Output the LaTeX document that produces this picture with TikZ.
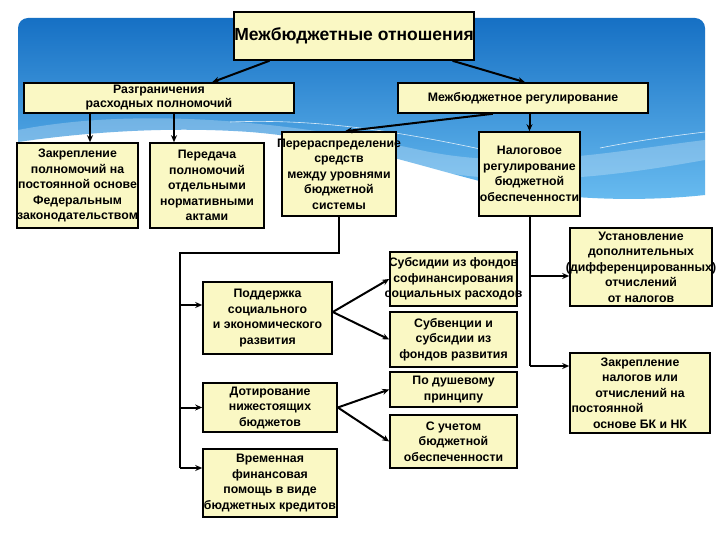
\documentclass[tikz,border=0pt]{standalone}
\usepackage{fontspec}
\setmainfont{Liberation Sans}
\usetikzlibrary{arrows.meta,calc}
\definecolor{boxfill}{RGB}{250,248,196}
\definecolor{bluetop}{RGB}{22,112,196}
\definecolor{bluebot}{RGB}{105,188,240}
\newcommand\boxnode[6][]{%
  \node[bx,minimum width=#4,minimum height=#5] (#2) at (#3) {};
  \node[txt,#1] (#2-t) at (#2.center) {#6};}
\begin{document}
\begin{tikzpicture}[x=1pt,y=-1pt,
  bx/.style={draw=black,line width=1.6pt,fill=boxfill,inner sep=0pt},
  txt/.style={inner sep=0pt,align=center,font=\bfseries\fontsize{12.3}{15.5}\selectfont},
  arr/.style={line width=2pt,-{Stealth[length=7pt,width=6pt]}},
  ln/.style={line width=2pt}]
\useasboundingbox (0,0) rectangle (720,540);
\fill[white] (0,0) rectangle (720,540);
% blue background panel
\shade[top color=bluetop,bottom color=bluebot]
  (18,142) -- (18,28) arc[start angle=180,end angle=270,radius=10] -- (695,18)
  arc[start angle=270,end angle=360,radius=10] -- (705,195)
  .. controls (640,202) and (560,200) .. (500,186)
  .. controls (430,170) and (350,140) .. (250,132)
  .. controls (150,125) and (60,136) .. (18,142) -- cycle;
\fill[white,opacity=0.25] (18,130) .. controls (120,110) and (260,115) .. (420,150)
  .. controls (520,172) and (620,150) .. (705,140) -- (705,160)
  .. controls (620,175) and (520,190) .. (420,168)
  .. controls (280,138) and (130,128) .. (18,142) -- cycle;
\draw[white,line width=0.6pt,opacity=0.8] (230,122) .. controls (330,118) and (420,135) .. (530,160);
\draw[white,line width=0.6pt,opacity=0.8] (600,148) .. controls (640,140) and (680,135) .. (705,132);
\draw[white,line width=0.6pt,opacity=0.8] (420,196) .. controls (470,185) and (500,178) .. (540,172);
% boxes
\boxnode[font=\bfseries\fontsize{17.5}{20}\selectfont]{title}{354,36}{240}{48}{Межбюджетные отношения}
\boxnode{razgr}{159,98}{270}{30}{Разграничения\\[-1.5pt]расходных полномочий}
\boxnode{mbreg}{523,98}{250}{30}{Межбюджетное регулирование}
\boxnode{zakr}{77.5,185.5}{121}{85}{Закрепление\\полномочий на\\постоянной основе\\Федеральным\\законодательством}
\boxnode{pered}{207,185.5}{114}{85}{Передача\\полномочий\\отдельными\\нормативными\\актами}
\boxnode{perer}{339,174}{114}{84}{Перераспределение\\средств\\между уровнями\\бюджетной\\системы}
\boxnode{nalog}{529.5,174}{101}{84}{Налоговое\\регулирование\\бюджетной\\обеспеченности}
\boxnode{subs}{453.5,279}{127}{54}{Субсидии из фондов\\софинансирования\\социальных расходов}
\boxnode{subv}{453.5,339.5}{127}{55}{Субвенции и\\субсидии из\\фондов развития}
\boxnode{podd}{267.5,318}{129}{72}{Поддержка\\социального\\и экономического\\развития}
\boxnode{dush}{453.5,389.5}{127}{35}{По душевому\\принципу}
\boxnode{uchet}{453.5,441.5}{127}{53}{С учетом\\бюджетной\\обеспеченности}
\boxnode{dot}{270,407.5}{134}{49}{Дотирование\\нижестоящих\\бюджетов}
\boxnode{vrem}{270,483}{134}{68}{Временная\\финансовая\\помощь в виде\\бюджетных кредитов}
\boxnode{ustan}{641,267}{142}{78}{Установление\\дополнительных\\(дифференцированных)\\отчислений\\от налогов}
\boxnode{zakrn}{640,393}{140}{80}{Закрепление\\налогов или\\отчислений на\\\makebox[137pt][l]{постоянной}\\основе БК и НК}
% connectors
\draw[arr] ($(title.south west)!0.15!(title.south east)$) -- ($(razgr.north west)!0.696!(razgr.north east)$);
\draw[arr] ($(title.south west)!0.908!(title.south east)$) -- ($(mbreg.north west)!0.508!(mbreg.north east)$);
\coordinate (zt) at ($(zakr.north)+(12.5,0)$);
\coordinate (pt) at ($(pered.north)+(-33,0)$);
\draw[arr] (razgr.south -| zt) -- (zt);
\draw[arr] (razgr.south -| pt) -- (pt);
\draw[arr] (mbreg.south -| nalog.north) -- (nalog.north);
\draw[arr] ($(mbreg.south west)!0.38!(mbreg.south east)$) -- ($(perer.north)+(6,0)$);
% left bus
\coordinate (j1) at (180,253);
\coordinate (b1) at (180,305);
\coordinate (b2) at (180,407.5);
\coordinate (b3) at (180,468);
\draw[ln] (perer.south) |- (j1) -- (b3);
\draw[arr] (b1) -- (b1 -| podd.west);
\draw[arr] (b2) -- (dot.west);
\draw[arr] (b3) -- (b3 -| vrem.west);
\coordinate (ps) at ($(podd.east)+(0,-6)$);
\draw[arr] (ps) -- (subs.west);
\draw[arr] (ps) -- (subv.west);
\draw[arr] (dot.east) -- (dush.west);
\draw[arr] (dot.east) -- (uchet.west);
% right bus
\coordinate (r1) at (529.5,276);
\coordinate (r2) at (529.5,366);
\draw[ln] (nalog.south) -- (r2);
\draw[arr] (r1) -- (r1 -| ustan.west);
\draw[arr] (r2) -- (r2 -| zakrn.west);
\end{tikzpicture}
\end{document}
